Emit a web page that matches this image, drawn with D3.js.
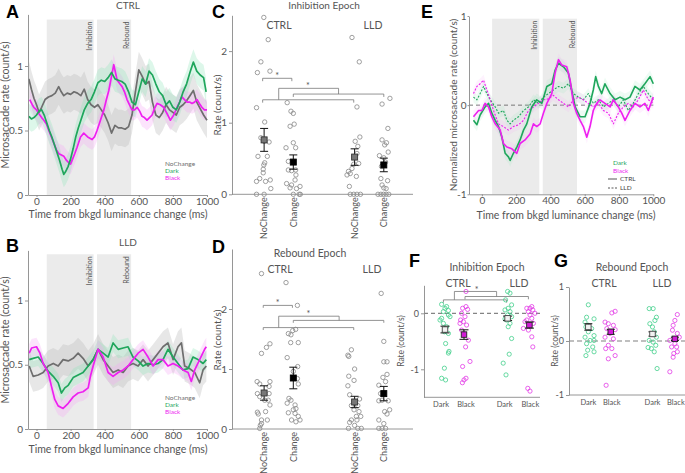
<!DOCTYPE html>
<html><head><meta charset="utf-8">
<script src="https://cdn.jsdelivr.net/npm/d3@7"></script>
<style>body{margin:0;background:#fff}svg{display:block}text{font-family:Lato,'Open Sans',sans-serif}</style>
</head><body><svg id="c" width="685" height="473"></svg>
<script>
// ---------------- DATA ----------------
const timeTicks = [0, 200, 400, 600, 800, 1000];
const epochs = [[60, 335], [355, 555]];
const epochNames = ["Inhibition", "Rebound"];
const seriesNames = ["NoChange", "Dark", "Black"];

// Panel A (CTRL) [time ms, rate]
const aNoChange = [[-45,0.90],[-30,0.82],[-15,0.75],[0,0.70],[15,0.64],[30,0.68],[50,0.74],[70,0.76],[90,0.77],[110,0.79],[130,0.84],[145,0.80],[160,0.77],[180,0.79],[200,0.78],[220,0.80],[240,0.79],[260,0.77],[280,0.82],[300,0.74],[320,0.70],[340,0.68],[360,0.70],[380,0.66],[400,0.62],[420,0.56],[440,0.48],[460,0.54],[480,0.52],[500,0.52],[520,0.51],[540,0.53],[560,0.62],[580,0.80],[600,0.97],[620,0.92],[640,0.86],[660,0.88],[680,0.72],[700,0.62],[720,0.60],[740,0.64],[760,0.70],[780,0.66],[800,0.64],[820,0.62],[840,0.68],[860,0.70],[880,0.73],[900,0.77],[920,0.81],[940,0.72],[960,0.67],[980,0.62],[1000,0.58]];
const aDark = [[-45,0.61],[-30,0.59],[-15,0.60],[0,0.62],[15,0.65],[30,0.66],[45,0.62],[60,0.56],[75,0.50],[90,0.45],[105,0.39],[120,0.33],[135,0.27],[150,0.20],[160,0.16],[170,0.18],[185,0.22],[200,0.28],[215,0.36],[230,0.45],[245,0.52],[260,0.58],[280,0.66],[300,0.71],[320,0.74],[340,0.80],[360,0.87],[380,0.89],[400,0.88],[420,0.91],[440,0.95],[460,0.90],[480,0.89],[500,0.88],[520,0.86],[540,0.80],[560,0.72],[580,0.70],[600,0.80],[620,0.90],[640,0.86],[660,0.96],[680,0.93],[700,0.86],[720,0.80],[740,0.77],[760,0.70],[780,0.73],[800,0.68],[820,0.66],[840,0.72],[860,0.80],[880,0.86],[900,0.95],[920,1.03],[940,0.96],[960,0.93],[980,0.91],[995,0.80]];
const aBlack = [[-40,0.74],[-25,0.70],[-16,0.68],[0,0.66],[14,0.63],[30,0.60],[43,0.58],[58,0.55],[72,0.50],[87,0.45],[102,0.40],[117,0.35],[131,0.32],[146,0.31],[160,0.30],[175,0.27],[189,0.25],[200,0.24],[209,0.27],[224,0.32],[238,0.37],[258,0.45],[277,0.48],[300,0.45],[326,0.43],[340,0.45],[355,0.50],[375,0.58],[395,0.66],[410,0.74],[424,0.81],[440,0.92],[453,1.01],[463,0.95],[473,0.89],[490,0.86],[502,0.84],[516,0.80],[531,0.74],[545,0.70],[560,0.66],[575,0.66],[590,0.68],[605,0.65],[619,0.61],[633,0.60],[648,0.58],[663,0.60],[678,0.62],[692,0.67],[707,0.71],[726,0.70],[746,0.68],[766,0.63],[785,0.58],[805,0.62],[824,0.68],[839,0.72],[853,0.76],[868,0.74],[883,0.72],[898,0.72],[912,0.71],[927,0.72],[941,0.74],[955,0.71],[970,0.68],[985,0.66],[1000,0.66]];
const aSem = [0.14, 0.10, 0.08];

// Panel B (LLD)
const bNoChange = [[-43,0.49],[-20,0.41],[10,0.42],[39,0.44],[68,0.49],[98,0.51],[127,0.49],[156,0.54],[186,0.53],[215,0.55],[244,0.59],[273,0.55],[303,0.49],[332,0.54],[361,0.62],[391,0.54],[420,0.49],[449,0.44],[479,0.46],[508,0.44],[537,0.49],[566,0.51],[596,0.49],[625,0.54],[654,0.49],[684,0.54],[713,0.59],[742,0.64],[771,0.67],[801,0.54],[830,0.64],[850,0.67],[869,0.49],[898,0.47],[928,0.44],[957,0.36],[977,0.46],[996,0.49]];
const bDark = [[-43,0.54],[-20,0.55],[10,0.56],[39,0.51],[68,0.45],[98,0.41],[127,0.36],[146,0.28],[166,0.32],[186,0.34],[215,0.40],[244,0.42],[273,0.44],[303,0.49],[332,0.54],[361,0.62],[391,0.59],[420,0.56],[449,0.67],[479,0.62],[508,0.63],[537,0.64],[566,0.56],[596,0.53],[625,0.49],[654,0.51],[684,0.50],[713,0.51],[742,0.54],[771,0.62],[801,0.56],[830,0.51],[859,0.46],[889,0.47],[918,0.56],[947,0.54],[977,0.51],[996,0.54]];
const bBlack = [[-43,0.59],[-29,0.63],[0,0.64],[20,0.59],[39,0.51],[68,0.44],[88,0.33],[107,0.23],[127,0.18],[156,0.16],[186,0.20],[215,0.25],[244,0.28],[273,0.29],[303,0.32],[316,0.41],[332,0.49],[361,0.62],[391,0.56],[420,0.44],[449,0.41],[479,0.44],[508,0.46],[537,0.49],[566,0.54],[596,0.59],[625,0.62],[654,0.56],[684,0.49],[713,0.54],[742,0.54],[771,0.49],[801,0.51],[830,0.49],[859,0.46],[889,0.44],[908,0.37],[928,0.46],[957,0.54],[986,0.62],[996,0.64]];
const bSem = [0.12, 0.07, 0.07];

// Panel E (normalized)
const eCtrlDark = [[-49,-0.17],[-29,-0.22],[-10,-0.11],[19,-0.02],[39,0.02],[58,-0.09],[78,-0.17],[97,-0.24],[117,-0.36],[136,-0.54],[155,-0.58],[165,-0.62],[184,-0.54],[204,-0.47],[223,-0.39],[243,-0.28],[262,-0.21],[291,-0.02],[320,0.06],[350,0.02],[379,0.21],[408,0.24],[427,0.39],[447,0.47],[476,0.43],[505,0.36],[524,0.17],[544,-0.02],[573,-0.13],[602,-0.13],[631,0.02],[650,0.17],[664,0.32],[680,0.21],[699,0.13],[718,0.24],[748,0.13],[777,0.06],[806,0.09],[835,0.06],[864,0.09],[893,0.21],[922,0.17],[951,0.24],[981,0.32],[1000,0.24]];
const eCtrlBlack = [[-49,-0.13],[-19,-0.06],[0,-0.06],[19,0.02],[39,-0.02],[58,-0.13],[78,-0.21],[107,-0.28],[126,-0.43],[146,-0.47],[175,-0.49],[204,-0.54],[223,-0.43],[252,-0.39],[282,-0.32],[301,-0.21],[320,-0.24],[340,-0.21],[359,-0.09],[379,0.02],[408,0.13],[427,0.36],[447,0.51],[466,0.45],[495,0.43],[515,0.28],[534,0.02],[553,-0.09],[573,-0.17],[592,-0.24],[612,-0.36],[631,-0.24],[650,-0.06],[670,0.02],[689,0.06],[718,0.02],[748,-0.02],[767,0.06],[796,-0.02],[816,-0.09],[835,-0.17],[864,-0.06],[893,0.02],[922,-0.02],[951,0.02],[971,-0.06],[1000,0.09]];
const eLldDark = [[-49,0.09],[-29,0.06],[-10,0.13],[10,0.21],[29,0.13],[49,0.06],[78,-0.02],[97,-0.09],[126,-0.06],[146,-0.17],[165,-0.21],[184,-0.17],[214,-0.13],[243,-0.06],[272,-0.02],[301,0.06],[330,0.02],[359,0.09],[388,0.13],[417,0.17],[447,0.21],[476,0.19],[505,0.24],[534,0.13],[563,0.09],[592,0.06],[621,0.13],[650,0.02],[680,0.06],[709,-0.02],[738,0.02],[767,0.06],[796,-0.02],[825,0.06],[854,-0.06],[883,0.02],[913,0.13],[942,0.21],[971,0.13],[1000,0.06]];
const eLldBlack = [[-49,0.13],[-29,0.21],[-10,0.24],[10,0.28],[29,0.17],[49,0.06],[68,-0.06],[97,-0.21],[126,-0.24],[155,-0.28],[184,-0.24],[214,-0.22],[243,-0.17],[272,-0.06],[301,-0.02],[330,0.02],[359,0.06],[388,0.07],[417,0.11],[447,0.06],[476,0.02],[505,-0.02],[534,0.06],[563,0.09],[592,0.06],[621,0.02],[650,-0.02],[680,0.02],[709,-0.06],[738,-0.09],[767,-0.21],[796,-0.09],[825,-0.02],[854,0.02],[883,-0.02],[913,0.06],[942,0.17],[971,0.06],[1000,0.02]];

// Panels C / D categories
const cdCategories = ["NoChange", "Change", "NoChange", "Change"];
const groupNames = ["CTRL", "LLD"];
// C: Inhibition epoch, values and horizontal jitter (fraction of category spacing)
const cVals = [
  [2.47,2.16,1.85,1.70,1.72,1.21,1.01,0.79,0.74,0.73,0.53,0.53,0.44,0.41,0.35,0.30,0.22,0.18,0.18,0.20,0.08,0,0],
  [1.28,1.16,1.13,0.95,0.98,0.65,0.72,0.65,0.46,0.34,0.34,0.33,0.27,0.15,0.13,0.20,0.09,0.08,0.11,0,0,0],
  [2.19,1.85,1.22,0.80,0.74,0.67,0.57,0.32,0.29,0.27,0.36,0.43,0.42,0.25,0.11,0,0,0,0],
  [1.34,1.26,0.92,0.76,0.72,0.69,0.59,0.54,0.51,0.39,0.45,0.22,0.19,0.13,0.09,0.08,0,0,0,0,0]];
const cJit = [
  [-0.01,0.14,-0.11,-0.23,0.2,-0.26,0.02,-0.11,0,0.17,-0.21,0.11,0.02,-0.01,-0.03,-0.03,-0.15,-0.26,0.05,0.21,0.23,-0.26,0],
  [-0.21,-0.08,0,-0.11,0.03,-0.25,0,0.08,-0.17,-0.17,0.08,-0.06,0.09,-0.23,-0.06,0.06,-0.11,0.11,0.23,0.2,0.24,0],
  [-0.09,0.16,0.08,0.18,0.02,0.11,0.08,-0.21,-0.15,-0.26,-0.09,0.14,-0.03,0.06,-0.18,-0.15,-0.03,0.08,0.2],
  [0.21,-0.06,0.14,-0.06,0.09,0.03,0.15,-0.15,0,-0.08,0.06,-0.1,0.13,-0.06,0,0.08,-0.2,-0.1,-0.01,0.08,0.17]];
const cMeans = [0.76, 0.45, 0.52, 0.41];
const cSems = [0.16, 0.10, 0.115, 0.095];
// D: Rebound epoch
const dVals = [
  [2.59,1.42,1.36,1.26,0.79,0.75,0.79,0.71,0.59,0.59,0.48,0.54,0.48,0.40,0.29,0.28,0.25,0.15,0.15,0.09,0.06,0.01],
  [2.44,2.06,1.66,1.64,1.59,1.57,1.44,1.44,1.19,1.04,0.96,0.84,0.75,0.51,0.48,0.43,0.40,0.34,0.32,0.26,0.27,0.21,0.15,0.15,0.12],
  [1.32,1.23,1.21,1.00,0.88,0.81,0.72,0.57,0.50,0.43,0.39,0.39,0.32,0.29,0.21,0.15,0.15,0.21,0.11,0.06,0.01,0.01,0.01],
  [2.26,1.46,1.12,1.12,0.91,0.86,0.79,0.73,0.59,0.48,0.47,0.47,0.29,0.32,0.25,0.15,0.09,0.01,0.01,0.01]];
const dJit = [
  [-0.09,0.2,0.08,-0.09,-0.24,-0.15,0.2,0.17,-0.23,0.17,0.02,-0.15,0.14,0.2,0.05,-0.23,-0.2,-0.09,0.11,-0.09,-0.13,-0.15],
  [-0.25,0.14,0.08,-0.02,-0.17,-0.08,-0.09,0.17,-0.21,0.15,0,0.14,0.17,-0.15,-0.08,-0.21,0.06,0.09,0,0.06,-0.17,0.17,0.23,-0.06,0.09],
  [-0.11,-0.23,-0.2,0,-0.2,-0.02,-0.23,-0.17,0.17,0,-0.11,0.11,-0.02,0.15,0.21,-0.11,0.08,0.06,-0.17,0,-0.21,0.11,0.23],
  [-0.09,0,0,0.11,0.11,-0.03,0.06,-0.17,-0.11,-0.06,-0.17,0.15,0.03,0.2,0.11,-0.17,0,-0.17,-0.06,0.06]];
const dMeans = [0.60, 0.85, 0.45, 0.59];
const dSems = [0.12, 0.18, 0.095, 0.12];

// Panels F / G
const fgCategories = ["Dark", "Black", "Dark", "Black"];
const fVals = [
  [0.16,0.12,0.09,0.05,0.03,-0.03,-0.06,-0.09,-0.12,-0.18,-0.24,-0.33,-0.36,-0.54,-0.68,-0.71,-0.98,-1.16,-1.19],
  [0.39,0.12,0.09,0.07,0.0,-0.06,-0.12,-0.15,-0.18,-0.21,-0.30,-0.48,-0.60,-0.86,-0.95,-1.16,-1.19,-1.24],
  [0.39,0.36,0.24,0.15,0.09,0.06,0.03,-0.03,-0.06,-0.10,-0.12,-0.18,-0.24,-0.45,-0.73,-0.89,-1.10],
  [0.12,0.09,0.09,0.06,0.03,0.0,-0.03,-0.09,-0.12,-0.15,-0.18,-0.27,-0.30,-0.42,-0.60,-1.34,-1.39]];
const fJit = [
  [-0.17,0.08,0,0.17,-0.08,0.17,0.25,-0.17,-0.25,-0.08,0.08,-0.03,0.17,0.03,0.2,0.17,-0.03,-0.17,0.03],
  [0.1,0.1,-0.07,0.18,-0.12,0.05,-0.17,-0.03,-0.2,0.13,-0.12,0.22,0.08,0.3,-0.07,0.1,0,-0.08],
  [0,0.12,-0.1,0.2,0.03,-0.13,0.12,0,0.2,-0.13,-0.05,0.12,0.03,0.2,0.08,-0.22,-0.08],
  [0.12,0.03,-0.13,0.17,-0.05,0.28,0.03,0.12,-0.13,-0.22,0.2,-0.3,-0.05,0.12,0.17,-0.08,0.03]];
const fMeans = [-0.29, -0.38, -0.09, -0.21];
const fSems = [0.06, 0.085, 0.04, 0.055];
const gVals = [
  [0.67,0.44,0.41,0.35,0.29,0.26,0.23,0.17,0.10,0.07,0.01,0.01,-0.05,-0.11,-0.17,-0.20,-0.27],
  [0.55,0.52,0.35,0.32,0.29,0.23,0.21,0.14,0.07,0.04,-0.08,-0.14,-0.14,-0.27,-0.33,-0.82],
  [0.60,0.60,0.44,0.38,0.32,0.26,0.17,0.07,0.01,-0.02,-0.08,-0.12,-0.14,-0.20,-0.51],
  [0.49,0.38,0.29,0.20,0.14,0.07,0.01,-0.05,-0.11,-0.23,-0.20,-0.30,-0.57,-0.11]];
const gJit = [
  [0,-0.08,0.26,-0.15,0,-0.11,0.15,0,0.26,-0.15,0.08,0.26,-0.08,0.2,-0.03,0.26,-0.11],
  [0.2,0.05,-0.26,-0.11,0.12,-0.18,0.2,-0.03,-0.26,0.12,-0.11,0.05,-0.23,0.2,-0.11,-0.21],
  [-0.15,0.03,0.18,0.11,-0.12,0,0.08,0.18,-0.15,0.03,0.15,-0.2,-0.05,0.08,0.21],
  [0.11,0,-0.08,-0.11,0.11,0.2,-0.23,0,-0.15,-0.05,0.11,-0.08,-0.23,0.08]];
const gMeans = [0.26, 0.17, 0.13, 0.04];
const gSems = [0.06, 0.045, 0.04, 0.03];

// ---------------- DRAWING ----------------
const svg = d3.select("#c");
const COL = {NoChange: "#6e6e6e", Dark: "#1fa65c", Black: "#ee1ff0"};
const BAND = {NoChange: "#b9b9b9", Dark: "#8fe3b8", Black: "#f6a6f6"};
const SCAT = {Dark: "#43cf8c", Black: "#e23be6"};
const AX = "#8a8a8a", TX = "#555";

function styleAxis(sel, fs) {
  sel.selectAll("path,line").attr("stroke", AX).attr("stroke-width", 0.9);
  sel.selectAll("text").attr("fill", TX).style("font-size", fs + "px");
}
function txt(x, y, s, o = {}) {
  const t = svg.append("text").attr("x", x).attr("y", y).text(s)
    .attr("fill", o.fill || TX).style("font-size", (o.fs || 10) + "px")
    .attr("text-anchor", o.anchor || "middle");
  if (o.rot) t.attr("transform", `rotate(${o.rot},${x},${y})`);
  if (o.weight) t.style("font-weight", o.weight);
  if (o.family) t.style("font-family", o.family);
  return t;
}

function tsPanel(o) {
  const x = d3.scaleLinear().domain(o.xd).range(o.xr);
  const y = d3.scaleLinear().domain(o.yd).range(o.yr);
  const g = svg.append("g");
  epochs.forEach((e, i) => {
    g.append("rect").attr("x", x(e[0])).attr("width", x(e[1]) - x(e[0]))
      .attr("y", y(o.shadeTop)).attr("height", y(o.yd[0]) - y(o.shadeTop)).attr("fill", "#ebebeb");
    g.append("text").attr("transform", `translate(${x(e[1]) - 2},${y(o.shadeTop) + 2}) rotate(-90)`)
      .attr("text-anchor", "end").attr("fill", TX).style("font-size", "7px").text(epochNames[i]);
  });
  if (o.zeroLine) g.append("line").attr("x1", o.xr[0]).attr("x2", x(1000)).attr("y1", y(0)).attr("y2", y(0))
    .attr("stroke", "#777").attr("stroke-dasharray", "4,3").attr("stroke-width", 1);
  const area = d3.area().x(d => x(d[0])).y0(d => y(d[1] - d[2])).y1(d => y(d[1] + d[2]));
  o.series.forEach(s => {
    g.append("path").datum(s.data.map(d => [d[0], d[1], s.sem])).attr("d", area)
      .attr("fill", BAND[s.name]).attr("opacity", s.bandOp);
  });
  const line = d3.line().x(d => x(d[0])).y(d => y(d[1]));
  o.series.forEach(s => {
    g.append("path").datum(s.data).attr("d", line).attr("fill", "none")
      .attr("stroke", COL[s.name]).attr("stroke-width", s.w || 1.7)
      .attr("stroke-dasharray", s.dash || null).attr("stroke-linejoin", "round");
  });
  const ya = g.append("g").attr("transform", `translate(${o.xr[0]},0)`)
    .call(d3.axisLeft(y).tickValues(o.yt).tickSize(o.yTick || 3).tickSizeOuter(0).tickPadding(o.yPad || 2).tickFormat(d => String(d)));
  styleAxis(ya, 10);
  const xa = g.append("g").attr("transform", `translate(0,${o.yr[0]})`)
    .call(d3.axisBottom(x).tickValues(timeTicks).tickSize(2).tickSizeOuter(0).tickPadding(1).tickFormat(d => String(d)));
  styleAxis(xa, 10);
  return {x, y};
}

// Panel A
tsPanel({xd: [-50, 1000], xr: [28, 207], yd: [0, 1.4], yr: [195, 14.4], yt: [0, 0.5, 1], shadeTop: 1.36,
  series: [
    {name: "NoChange", data: aNoChange, sem: aSem[0], bandOp: 0.35},
    {name: "Black", data: aBlack, sem: aSem[2], bandOp: 0.3},
    {name: "Dark", data: aDark, sem: aSem[1], bandOp: 0.3}]});
// Panel B
tsPanel({xd: [-50, 1000], xr: [28, 207], yd: [0, 1.39], yr: [429, 250.4], yt: [0, 0.5, 1], shadeTop: 1.36,
  series: [
    {name: "NoChange", data: bNoChange, sem: bSem[0], bandOp: 0.35},
    {name: "Dark", data: bDark, sem: bSem[1], bandOp: 0.3},
    {name: "Black", data: bBlack, sem: bSem[2], bandOp: 0.3}]});
// Panel E
tsPanel({xd: [-75, 1000], xr: [469, 653.3], yd: [-1, 1], yr: [194.3, 16], yt: [-1, 0, 1], shadeTop: 0.97, zeroLine: true,
  yTick: 1.5, yPad: 1,
  series: [
    {name: "Dark", data: eLldDark, sem: 0.06, bandOp: 0.15, dash: "2,1.5", w: 1.1},
    {name: "Black", data: eLldBlack, sem: 0.06, bandOp: 0.15, dash: "2,1.5", w: 1.1},
    {name: "Dark", data: eCtrlDark, sem: 0.07, bandOp: 0.15, w: 1.6},
    {name: "Black", data: eCtrlBlack, sem: 0.07, bandOp: 0.15, w: 1.6}]});

// legends for A, B
[166, 400].forEach(yy => {
  seriesNames.forEach((n, i) => txt(165, yy + i * 7, n, {anchor: "start", fs: 6.5, fill: COL[n]}));
});
// legend E
txt(613, 165, "Dark", {anchor: "start", fs: 6.5, fill: COL.Dark});
txt(613, 173, "Black", {anchor: "start", fs: 6.5, fill: COL.Black});
svg.append("line").attr("x1", 608).attr("x2", 617).attr("y1", 179).attr("y2", 179).attr("stroke", "#444").attr("stroke-width", 0.9);
svg.append("line").attr("x1", 608).attr("x2", 617).attr("y1", 188).attr("y2", 188).attr("stroke", "#444").attr("stroke-width", 0.9).attr("stroke-dasharray", "2,1.5");
txt(620, 181, "CTRL", {anchor: "start", fs: 6.5, fill: "#444"});
txt(620, 190, "LLD", {anchor: "start", fs: 6.5, fill: "#444"});

// titles and labels for time panels
txt(128, 9, groupNames[0], {fs: 10});
txt(128, 246, groupNames[1], {fs: 10});
const tLabel = "Time from bkgd luminance change (ms)";
txt(118, 218, tLabel, {fs: 10.5});
txt(118, 453, tLabel, {fs: 10.5});
txt(566, 219, tLabel, {fs: 10.5});
txt(9, 105, "Microsaccade rate (count/s)", {fs: 10.5, rot: -90});
txt(9, 340, "Microsaccade rate (count/s)", {fs: 10.5, rot: -90});
txt(457, 105, "Normalized microsaccade rate (count/s)", {fs: 10, rot: -90});

// ---------- category panels ----------
function catPanel(o) {
  const x = d3.scaleLinear().domain(o.xd).range(o.xr);
  const y = d3.scaleLinear().domain(o.yd).range(o.yr);
  const g = svg.append("g");
  if (o.zeroDash) g.append("line").attr("x1", o.xr[0]).attr("x2", o.xr[1]).attr("y1", y(0)).attr("y2", y(0))
    .attr("stroke", o.zeroDash).attr("stroke-width", o.zeroW).attr("stroke-dasharray", o.zeroDa);
  (o.brackets || []).forEach(b => {
    const [x1, x2, yv, yl, yr] = b;
    g.append("path").attr("d", `M${x(x1)},${y(yl)}V${y(yv)}H${x(x2)}V${y(yr)}`)
      .attr("fill", "none").attr("stroke", "#777").attr("stroke-width", 0.8);
  });
  (o.stars || []).forEach(s => g.append("text").attr("x", x(s[0])).attr("y", y(s[1]) + 4)
    .attr("text-anchor", "middle").attr("fill", "#555").style("font-size", "9px").text("*"));
  o.vals.forEach((vs, i) => {
    g.selectAll(null).data(vs.map((v, k) => [o.pos[i] + o.jit[i][k], v])).enter().append("circle")
      .attr("cx", d => x(d[0])).attr("cy", d => y(d[1])).attr("r", o.r)
      .attr("fill", "none").attr("stroke", o.ptCol[i]).attr("stroke-width", 0.8);
  });
  o.means.forEach((m, i) => {
    const cx = x(o.pos[i]), cw = o.cap;
    const p = `M${cx - cw / 2},${y(m + o.sems[i])}H${cx + cw / 2}M${cx},${y(m + o.sems[i])}V${y(m - o.sems[i])}M${cx - cw / 2},${y(m - o.sems[i])}H${cx + cw / 2}`;
    g.append("path").attr("d", p).attr("stroke", "#111").attr("stroke-width", 1).attr("fill", "none");
    g.append("rect").attr("x", cx - o.sq / 2).attr("y", y(m) - o.sq / 2).attr("width", o.sq).attr("height", o.sq)
      .attr("fill", o.meanFill[i]).attr("stroke", o.meanStroke[i]).attr("stroke-width", 0.9);
  });
  const ya = g.append("g").attr("transform", `translate(${o.xr[0]},0)`)
    .call(d3.axisLeft(y).tickValues(o.yt).tickSize(3).tickSizeOuter(0).tickPadding(2).tickFormat(d => String(d)));
  styleAxis(ya, o.tfs);
  g.append("line").attr("x1", o.xr[0]).attr("x2", o.xr[1]).attr("y1", o.yr[0]).attr("y2", o.yr[0]).attr("stroke", AX).attr("stroke-width", 0.9);
  o.cats.forEach((c, i) => {
    if (o.rotLabels) {
      g.append("text").attr("transform", `translate(${x(o.pos[i]) + 3.2},${o.yr[0] + 3}) rotate(-90)`)
        .attr("text-anchor", "end").attr("fill", TX).style("font-size", "9px").text(c);
    } else {
      g.append("text").attr("x", x(o.pos[i]) + (o.labShift ? o.labShift[i] : 0)).attr("y", o.yr[0] + 9.5).attr("text-anchor", "middle")
        .attr("fill", TX).style("font-size", "7.5px").text(c);
    }
  });
  return {x, y};
}

const cdPos = [0, 1, 3.1, 4.1];
const cdFill = ["#777", "#000", "#777", "#000"];
catPanel({xd: [-1.1, 5.1], xr: [232, 413], yd: [0, 2.5], yr: [194.3, 15.3], yt: [0, 1, 2], pos: cdPos,
  vals: cVals, jit: cJit, means: cMeans, sems: cSems, r: 2.2, ptCol: ["#888", "#888", "#888", "#888"],
  meanFill: cdFill, meanStroke: ["#333", "#000", "#333", "#000"], sq: 6, cap: 8, tfs: 10, cats: cdCategories, rotLabels: true,
  brackets: [[-0.05, 0.95, 1.62, 1.58, 1.58], [-0.05, 3.07, 1.32, 1.28, 1.28], [1, 4.1, 1.40, 1.36, 1.36], [0.5, 2.55, 1.48, 1.32, 1.40]],
  stars: [[0.45, 1.67], [1.5, 1.53]]});
catPanel({xd: [-1.1, 5.1], xr: [232, 413], yd: [0, 3], yr: [429, 249], yt: [0, 1, 2], pos: cdPos,
  vals: dVals, jit: dJit, means: dMeans, sems: dSems, r: 2.2, ptCol: ["#888", "#888", "#888", "#888"],
  meanFill: cdFill, meanStroke: ["#333", "#000", "#333", "#000"], sq: 6, cap: 8, tfs: 10, cats: cdCategories, rotLabels: true,
  brackets: [[-0.03, 0.97, 2.06, 2.02, 2.02], [-0.03, 3.07, 1.69, 1.65, 1.65], [1, 4.1, 1.81, 1.77, 1.77], [0.5, 2.57, 1.88, 1.69, 1.81]],
  stars: [[0.46, 2.12], [1.52, 1.94]]});

const fgCol = [SCAT.Dark, SCAT.Black, SCAT.Dark, SCAT.Black];
const fgFill = ["#f2f2f2", "#d11bd6", "#f2f2f2", "#d11bd6"];
catPanel({xd: [-1.05, 4.75], xr: [424, 540], yd: [-1.5, 0.5], yr: [397.3, 285.3], yt: [-1, 0], pos: [0, 0.95, 3.13, 4.22],
  vals: fVals, jit: fJit, means: fMeans, sems: fSems, r: 2.1, ptCol: fgCol, labShift: [-4, 2, -3, 1],
  meanFill: fgFill, meanStroke: ["#444", "#222", "#444", "#222"], sq: 5.5, cap: 9, tfs: 9, cats: fgCategories,
  zeroDash: "#555", zeroW: 0.9, zeroDa: "4,3",
  brackets: [[-0.08, 3.08, 0.24, 0.19, 0.19], [1.0, 4.17, 0.30, 0.25, 0.25], [0.47, 2.58, 0.39, 0.24, 0.30]],
  stars: [[1.58, 0.44]]});
catPanel({xd: [-0.88, 4.4], xr: [569, 685], yd: [-1, 1], yr: [395, 287], yt: [-1, 0, 1], pos: [0, 1.02, 2.92, 3.94],
  vals: gVals, jit: gJit, means: gMeans, sems: gSems, r: 2.1, ptCol: fgCol, labShift: [0, 1, 0, 1],
  meanFill: fgFill, meanStroke: ["#444", "#222", "#444", "#222"], sq: 5.5, cap: 8, tfs: 9, cats: fgCategories,
  zeroDash: "#aaa", zeroW: 1.4, zeroDa: "5,3"});

// titles for category panels
txt(324, 9, "Inhibition Epoch", {fs: 10});
txt(279, 29, groupNames[0], {fs: 10.5}); txt(373, 29, groupNames[1], {fs: 10.5});
txt(310, 257, "Rebound Epoch", {fs: 10.5});
txt(280, 273, groupNames[0], {fs: 10.5}); txt(372, 273, groupNames[1], {fs: 10.5});
txt(487, 271, "Inhibition Epoch", {fs: 10.5});
txt(458, 287, groupNames[0], {fs: 10.5}); txt(519, 287, groupNames[1], {fs: 10.5});
txt(632, 271, "Rebound Epoch", {fs: 10.5});
txt(604, 287, groupNames[0], {fs: 10.5}); txt(662, 287, groupNames[1], {fs: 10.5});
txt(221, 105, "Rate (count/s)", {fs: 10, rot: -90});
txt(221, 340, "Rate (count/s)", {fs: 10, rot: -90});
txt(404, 341, "Rate (count/s)", {fs: 8.5, rot: -90});
txt(558, 341, "Rate (count/s)", {fs: 8.5, rot: -90});

// panel letters
[["A", 6, 18], ["B", 6, 252], ["C", 212, 18], ["D", 212, 253], ["E", 421, 18], ["F", 409, 267], ["G", 554, 267]]
  .forEach(([l, x, y]) => txt(x, y, l, {anchor: "start", fs: 18, weight: "bold", fill: "#000", family: "'Liberation Sans', Arial, sans-serif"}));
</script></body></html>
